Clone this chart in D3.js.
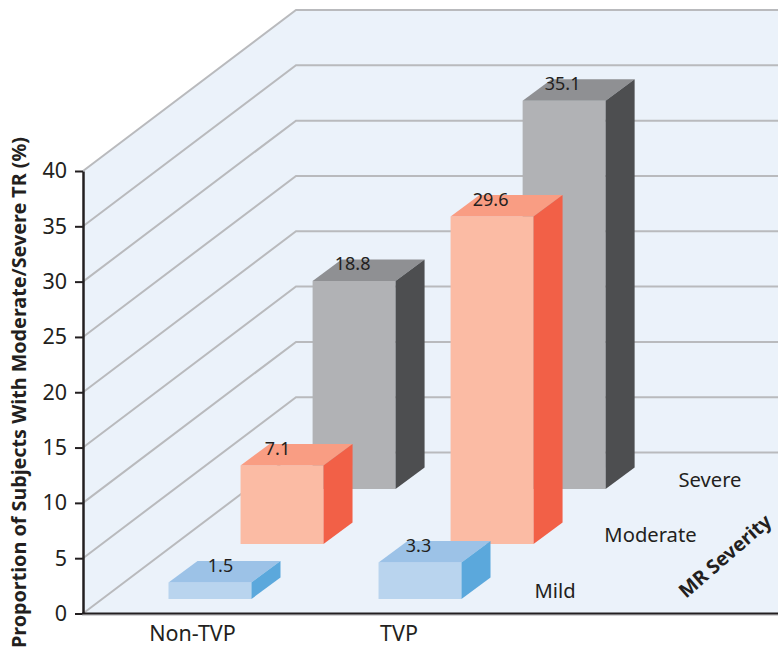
<!DOCTYPE html>
<html><head><meta charset="utf-8">
<script src="https://cdn.jsdelivr.net/npm/d3@7"></script>
<style>html,body{margin:0;padding:0;background:#fff}svg{display:block}text{font-family:"Noto Sans",sans-serif;fill:#231f20}</style>
</head><body><svg id="c" width="778" height="650"></svg>
<script>
const groups = ["Non-TVP", "TVP"];
const severities = ["Mild", "Moderate", "Severe"];
const nonTvpValues = [1.5, 7.1, 18.8];
const tvpValues = [3.3, 29.6, 35.1];
const yTicks = [0, 5, 10, 15, 20, 25, 30, 35, 40];
const frontColors = ["#b9d4ee", "#fbbba4", "#b1b2b5"];
const topColors = ["#9cc2e7", "#f99d83", "#8f9093"];
const sideColors = ["#5ba8dc", "#f26047", "#4d4e50"];

const svg = d3.select("#c");
const left = 83, right = 778, wallDx = 213, wallDy = 161;
const y = d3.scaleLinear().domain([0, 40]).range([613.5, 171]);
const x = d3.scaleBand().domain(groups).range([149.5, 442.5]).paddingInner(0.605).paddingOuter(0);
const labelX = d3.scalePoint().domain(groups).range([192.5, 399]);
const depth = d3.scalePoint().domain(severities).range([14.5, 124.5]);
const barSlope = 1.31;
const barDepth = 21.5;
const line = d3.line();

// wall and floor
svg.append("path").attr("fill", "#ebf2fa").attr("d", line([
  [left, y(40)], [left + wallDx, y(40) - wallDy], [right, y(40) - wallDy], [right, y(0)], [left, y(0)]
]) + "Z");

// grid
svg.append("g").selectAll("path").data(yTicks).join("path")
  .attr("fill", "none").attr("stroke", "#b9babd").attr("stroke-width", 2)
  .attr("d", v => line([[left, y(v)], [left + wallDx, y(v) - wallDy], [right, y(v) - wallDy]]));

// bars, back to front
const bars = [];
severities.forEach((s, i) => {
  groups.forEach((g, j) => {
    bars.push({ s, g, i, value: (j === 0 ? nonTvpValues : tvpValues)[i] });
  });
});
bars.sort((a, b) => b.i - a.i);
const labelNudge = { "7.1": -3, "1.5": 12 };
const gBars = svg.append("g");
bars.forEach(b => {
  const dy = depth(b.s), dx = dy * barSlope;
  const x0 = x(b.g) + dx, x1 = x0 + x.bandwidth();
  const base = y(0) - dy, top = base - (y(0) - y(b.value));
  const ox = barDepth * 1.35, oy = barDepth;
  gBars.append("path").attr("fill", frontColors[b.i]).attr("d", line([[x0, base], [x0, top], [x1, top], [x1, base]]) + "Z");
  gBars.append("path").attr("fill", topColors[b.i]).attr("d", line([[x0, top], [x0 + ox, top - oy], [x1 + ox, top - oy], [x1, top]]) + "Z");
  gBars.append("path").attr("fill", sideColors[b.i]).attr("d", line([[x1, top], [x1 + ox, top - oy], [x1 + ox, base - oy], [x1, base]]) + "Z");
  b.lx = x0 + 40 + (labelNudge[b.value] || 0);
  b.ly = top - 17;
});
// value labels on top of every bar
svg.append("g").selectAll("text").data(bars).join("text")
  .attr("x", d => d.lx).attr("y", d => d.ly).attr("dy", "0.35em")
  .attr("text-anchor", "middle").attr("font-size", 18).text(d => d.value);

// axes
const yAxis = svg.append("g").attr("transform", `translate(${left},0)`)
  .call(d3.axisLeft(y).tickValues(yTicks).tickSize(8).tickSizeOuter(0).tickPadding(8));
yAxis.select(".domain").attr("stroke", "#231f20").attr("stroke-width", 2.5);
yAxis.selectAll(".tick line").attr("stroke", "#231f20").attr("stroke-width", 2);
yAxis.selectAll(".tick text").attr("font-size", 21.5).style("font-family", '"Noto Sans",sans-serif').attr("fill", "#231f20");

svg.append("line").attr("x1", left - 1).attr("x2", right).attr("y1", y(0) + 1.6).attr("y2", y(0) + 1.6).attr("stroke", "#c4c5c7").attr("stroke-width", 1.5);
svg.append("line").attr("x1", left - 1).attr("x2", right).attr("y1", y(0)).attr("y2", y(0)).attr("stroke", "#231f20").attr("stroke-width", 2);

// category labels
svg.append("g").selectAll("text").data(groups).join("text")
  .attr("x", d => labelX(d)).attr("y", 633).attr("dy", "0.35em")
  .attr("text-anchor", "middle").attr("font-size", 21.5).text(d => d);

// depth labels
const depthLabelX = { Mild: 555, Moderate: 650.5, Severe: 710 };
const depthLabelY = { Mild: 590.5, Moderate: 535, Severe: 480 };
svg.append("g").selectAll("text").data(severities).join("text")
  .attr("x", d => depthLabelX[d]).attr("y", d => depthLabelY[d])
  .attr("dy", "0.35em").attr("text-anchor", "middle").attr("font-size", 20.2).text(d => d);

svg.append("text").attr("transform", "translate(725,556) rotate(-41)")
  .attr("dy", "0.35em").attr("text-anchor", "middle").attr("font-size", 19.5).attr("font-weight", 700).text("MR Severity");

svg.append("text").attr("transform", "translate(19,392.5) rotate(-90)")
  .attr("dy", "0.35em").attr("text-anchor", "middle").attr("font-size", 19).attr("font-weight", 700)
  .attr("textLength", 511).attr("lengthAdjust", "spacingAndGlyphs")
  .text("Proportion of Subjects With Moderate/Severe TR (%)");
</script></body></html>
